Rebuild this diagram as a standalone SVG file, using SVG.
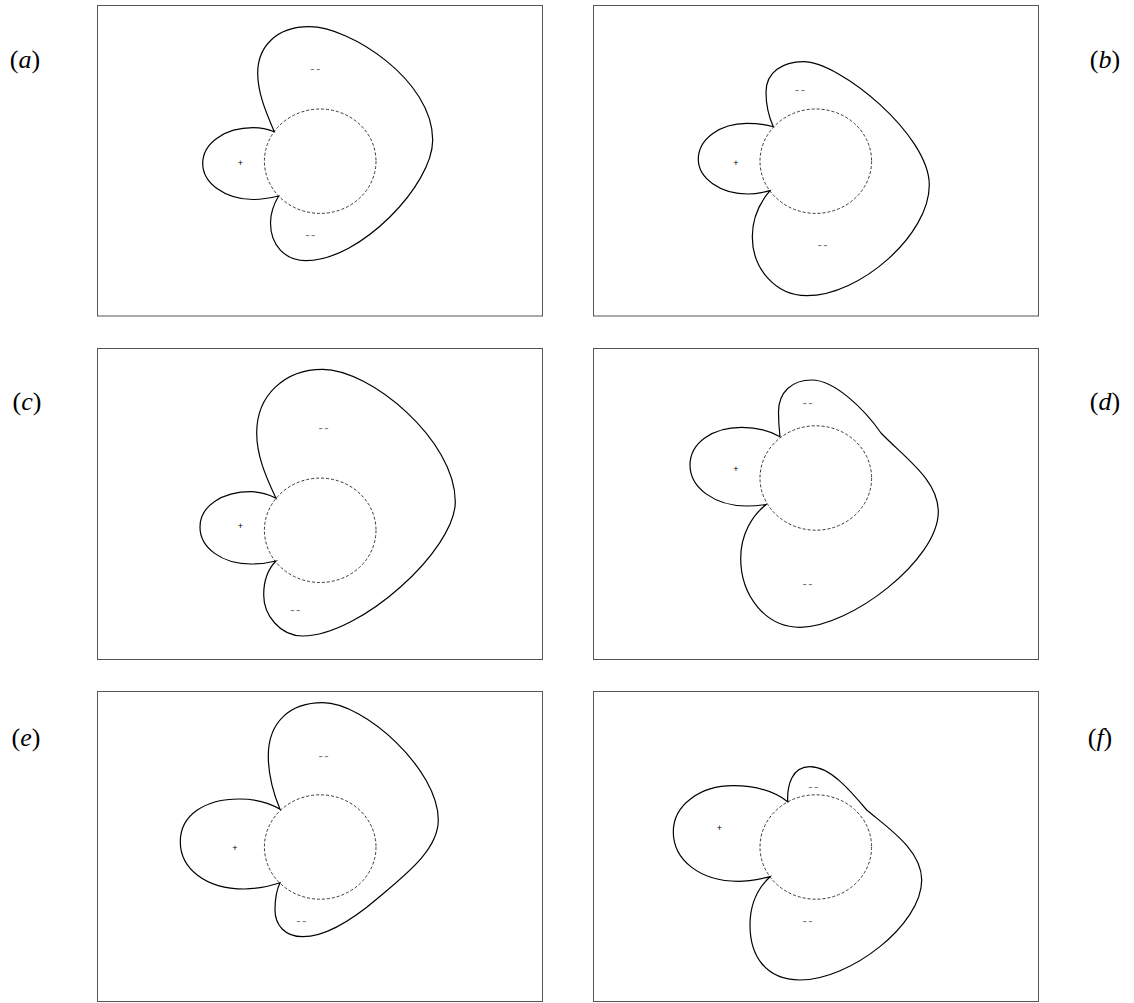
<svg xmlns="http://www.w3.org/2000/svg" width="1134" height="1003" viewBox="0 0 1134 1003">
<style>
.frame{fill:none;stroke:#555;stroke-width:1}
.lobe{fill:none;stroke:#000;stroke-width:1.2;stroke-linejoin:miter}
.core{fill:none;stroke:#222;stroke-width:0.9;stroke-dasharray:3 2}
.lbl{font-family:"Liberation Serif",serif;font-size:26px;fill:#000;text-anchor:middle}
.sg{font-family:"Liberation Sans",sans-serif;font-size:13px;fill:#777;text-anchor:middle;dominant-baseline:central;letter-spacing:1.5px}
.pl{font-family:"Liberation Sans",sans-serif;font-size:9px;fill:#000;text-anchor:middle;dominant-baseline:central}
</style>
<rect width="1134" height="1003" fill="#fff"/>

<g id="panel-a">
<rect class="frame" x="97.5" y="5.5" width="445" height="310.5"/>
<ellipse class="core" cx="320.2" cy="161.2" rx="55.8" ry="52.2"/>
<path class="lobe" d="M274.3,131.7 C265,110 257.7,92 257.7,73 C257.7,48 275,26.7 309.3,26.7 C350,26.7 432.7,80 432.7,140 C432.7,185 360,260.7 306,260.7 C285,260.7 270.5,245 270.5,223 C270.5,210 275,202 278.7,196 C270,198 262,199.5 253,199.5 C225,199.5 202.7,183 202.7,163.5 C202.7,143 225,127.7 253,127.7 C262,127.7 268,129.5 274.3,131.7 Z"/>
<text class="pl" x="240.3" y="162.7">+</text>
<text class="sg" x="316" y="68.7">--</text>
<text class="sg" x="311" y="234.3">--</text>
<text class="lbl" x="25" y="68">(<tspan font-style="italic">a</tspan>)</text>
</g>

<g id="panel-b">
<rect class="frame" x="593.5" y="5.5" width="445" height="310.5"/>
<ellipse class="core" cx="815.8" cy="161.2" rx="55.8" ry="52.2"/>
<path class="lobe" d="M773.3,126.7 C768,115 766,103 766,92 C766,72 783,61.7 803.3,61.7 C840,61.7 929.3,135 929.3,185 C929.3,235 860,295.7 806.7,295.7 C775,295.7 752.3,268 752.3,236.7 C752.3,215 762,200 770,190.7 C763,192.5 756,194 748.3,194 C720,194 698.3,178 698.3,159.3 C698.3,139 720,123.3 746.7,123.3 C757,123.3 766,124.5 773.3,126.7 Z"/>
<text class="pl" x="736" y="162.7">+</text>
<text class="sg" x="800.7" y="89.3">--</text>
<text class="sg" x="823.3" y="244.3">--</text>
<text class="lbl" x="1105" y="68">(<tspan font-style="italic">b</tspan>)</text>
</g>

<g id="panel-c">
<rect class="frame" x="97.5" y="348.5" width="445" height="311"/>
<ellipse class="core" cx="320.2" cy="530.3" rx="55.8" ry="52.2"/>
<path class="lobe" d="M276,498.3 C265,475 256.7,455 256.7,433 C256.7,395 285,369.3 322.7,369.3 C370,369.3 455.3,440 455.3,501.7 C455.3,550 360,636 302.7,636 C280,636 263.7,615 263.7,595 C263.7,580 269,568 276,561 C268,563 260,564 251,564 C222,564 200,548 200,527 C200,506 222,491.7 251,491.7 C262,491.7 270,495 276,498.3 Z"/>
<text class="pl" x="240.3" y="526">+</text>
<text class="sg" x="324.3" y="427.7">--</text>
<text class="sg" x="296" y="609.3">--</text>
<text class="lbl" x="27" y="410">(<tspan font-style="italic">c</tspan>)</text>
</g>

<g id="panel-d">
<rect class="frame" x="593.5" y="348.5" width="445" height="311"/>
<ellipse class="core" cx="815.8" cy="478" rx="55.8" ry="52.2"/>
<path class="lobe" d="M780,436.7 C779,428 778.5,420 778.5,412 C778.5,392 792,380 811.7,380 C835,380 865,410 881,433 C905,458 938.3,480 938.3,511.7 C938.3,560 850,627.3 800,627.3 C765,627.3 740.7,595 740.7,558.3 C740.7,535 752,515 766.7,504.3 C760,505.5 753,506 746.7,506 C715,506 690,488 690,465 C690,443 712,427.3 741.7,427.3 C758,427.3 770,431 780,436.7 Z"/>
<text class="pl" x="736" y="468.7">+</text>
<text class="sg" x="808.3" y="402.3">--</text>
<text class="sg" x="808.3" y="583.3">--</text>
<text class="lbl" x="1105" y="410">(<tspan font-style="italic">d</tspan>)</text>
</g>

<g id="panel-e">
<rect class="frame" x="97.5" y="691.5" width="445" height="310"/>
<ellipse class="core" cx="320.2" cy="847" rx="55.8" ry="52.2"/>
<path class="lobe" d="M280,809.3 C272,790 268.3,773 268.3,756 C268.3,722 290,702.7 322.7,702.7 C365,702.7 438.3,770 438.3,820 C438.3,850 405,875 378,898 C350,922 325,936.7 302.7,936.7 C285,936.7 275,925 275,910 C275,897 277,889 280,882.7 C268,886.5 256,889 244.3,889 C205,889 180.3,868 180.3,841.7 C180.3,815 205,799 239.3,799 C256,799 270,803 280,809.3 Z"/>
<text class="pl" x="235" y="847.7">+</text>
<text class="sg" x="324.3" y="755">--</text>
<text class="sg" x="302" y="920.7">--</text>
<text class="lbl" x="26" y="746">(<tspan font-style="italic">e</tspan>)</text>
</g>

<g id="panel-f">
<rect class="frame" x="593.5" y="691.5" width="445" height="310"/>
<ellipse class="core" cx="815.8" cy="847" rx="55.8" ry="52.2"/>
<path class="lobe" d="M787.7,801.7 C787,785 792,766.7 810,766.7 C830,766.7 850,790 866.7,810 C888,828 921.7,850 921.7,880 C921.7,925 850,980 800,980 C765,980 750,955 750,925 C750,905 758,888 770,876.7 C760,879 750,881.3 738.3,881.3 C700,881.3 673.3,860 673.3,831.7 C673.3,805 700,785.7 733.3,785.7 C757,785.7 775,792 787.7,801.7 Z"/>
<text class="pl" x="719.3" y="827.7">+</text>
<text class="sg" x="814" y="786">--</text>
<text class="sg" x="808.3" y="920.7">--</text>
<text class="lbl" x="1100" y="746">(<tspan font-style="italic">f</tspan>)</text>
</g>

<g id="connectors"></g>
</svg>
